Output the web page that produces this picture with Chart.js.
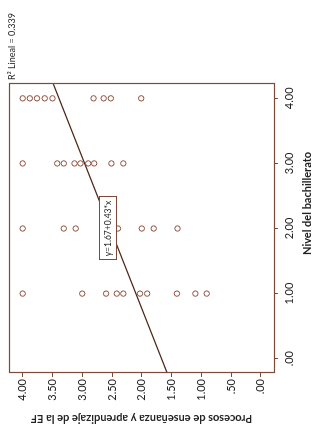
<!DOCTYPE html>
<html><head><meta charset="utf-8">
<script src="https://cdn.jsdelivr.net/npm/chart.js@4.4.1/dist/chart.umd.min.js"></script>
<style>
html,body{margin:0;padding:0;background:#fff;overflow:hidden;width:320px;height:433px;}
#wrap{position:absolute;left:0;top:0;width:433px;height:320px;transform-origin:0 0;transform:translate(0px,433px) rotate(-90deg);}
canvas{display:block;}
</style></head><body>
<div id="wrap"><canvas id="c" width="433" height="320"></canvas></div>
<script>
// ---- data ----
const nivelLevels = [4, 3, 2, 1];
const procesosNivel4 = [4.00, 3.88, 3.76, 3.63, 3.50, 2.81, 2.64, 2.52, 2.01];
const procesosNivel3 = [4.00, 3.42, 3.31, 3.13, 3.03, 2.90, 2.80, 2.51, 2.31];
const procesosNivel2 = [4.00, 3.31, 3.11, 2.40, 2.00, 1.80, 1.40];
const procesosNivel1 = [4.00, 3.00, 2.60, 2.42, 2.31, 2.03, 1.91, 1.41, 1.10, 0.91];
const nivelTicks = [0, 1, 2, 3, 4];
const nivelTickLabels = [".00", "1.00", "2.00", "3.00", "4.00"];
const procesosTicks = [0, 0.5, 1, 1.5, 2, 2.5, 3, 3.5, 4];
const procesosTickLabels = [".00", ".50", "1.00", "1.50", "2.00", "2.50", "3.00", "3.50", "4.00"];
const fitIntercept = 1.67;
const fitSlope = 0.43;
const fitRange = [-0.22, 4.22];
const xTitle = "Nivel del bachillerato";
const yTitle = "Procesos de enseñanza y aprendizaje de la EF";
const r2Label = "R² Lineal = 0.339";
const fitLabel = "y=1.67+0.43*x";
const fitLabelAt = [2.0, 2.57];

// ---- build ----
const groups = [procesosNivel4, procesosNivel3, procesosNivel2, procesosNivel1];
const points = [];
groups.forEach((arr, i) => arr.forEach(v => points.push({x: nivelLevels[i], y: v})));
const fitLine = fitRange.map(x => ({x: x, y: fitIntercept + fitSlope * x}));

const BROWN = '#7d4a3a';
const POINT = '#8b4c39';
const LINE = '#4e2619';
const TEXT = '#222';
const FONT = 'Lato, "Open Sans", sans-serif';

const decor = {
  id: 'decor',
  afterDatasetsDraw(chart) {
    const {ctx, chartArea: a, scales} = chart;
    ctx.save();
    // frame
    ctx.strokeStyle = BROWN;
    ctx.lineWidth = 1.2;
    ctx.strokeRect(Math.round(a.left) + 0.5, Math.round(a.top) + 0.5, Math.round(a.right - a.left), Math.round(a.bottom - a.top));
    // equation box
    ctx.font = '8.5px ' + FONT;
    const tw = ctx.measureText(fitLabel).width;
    const cx = scales.x.getPixelForValue(fitLabelAt[0]);
    const cy = scales.y.getPixelForValue(fitLabelAt[1]);
    const bw = tw + 7, bh = 17;
    ctx.fillStyle = '#fff';
    ctx.fillRect(cx - bw / 2, cy - bh / 2, bw, bh);
    ctx.strokeStyle = BROWN;
    ctx.lineWidth = 1;
    ctx.strokeRect(Math.round(cx - bw / 2) + 0.5, Math.round(cy - bh / 2) + 0.5, Math.round(bw), bh);
    ctx.fillStyle = TEXT;
    ctx.textAlign = 'center';
    ctx.textBaseline = 'middle';
    ctx.fillText(fitLabel, cx, cy + 0.5);
    // R2 label
    ctx.font = '9px ' + FONT;
    ctx.textAlign = 'left';
    ctx.fillText(r2Label, a.right + 4, a.top + 3.5);
    // x title
    ctx.font = 'bold 11px ' + FONT;
    ctx.textAlign = 'center';
    ctx.fillText(xTitle, (a.left + a.right) / 2 + 25, a.bottom + 33);
    ctx.restore();
  }
};

new Chart(document.getElementById('c'), {
  type: 'scatter',
  data: {
    datasets: [
      {
        type: 'line', data: fitLine, borderColor: LINE, borderWidth: 1.3,
        pointRadius: 0, fill: false, tension: 0, order: 2
      },
      {
        data: points, pointRadius: 2.7, pointBorderWidth: 1,
        pointBorderColor: POINT, pointBackgroundColor: 'rgba(255,255,255,0)',
        order: 1
      }
    ]
  },
  options: {
    responsive: false,
    animation: false,
    layout: {padding: {top: 9, right: 84, left: 0, bottom: 0}},
    plugins: {legend: {display: false}, tooltip: {enabled: false}},
    scales: {
      x: {
        type: 'linear', min: -0.22, max: 4.22,
        afterBuildTicks: s => { s.ticks = nivelTicks.map(v => ({value: v})); },
        afterFit: s => { s.height = 46; },
        grid: {drawOnChartArea: false, drawTicks: true, tickLength: 4, color: BROWN, lineWidth: 1},
        border: {display: true, color: BROWN, width: 1},
        ticks: {
          color: TEXT, font: {family: FONT, size: 11}, padding: 5, maxRotation: 0,
          callback: v => nivelTickLabels[nivelTicks.indexOf(v)]
        }
      },
      y: {
        type: 'linear', min: -0.22, max: 4.23,
        afterBuildTicks: s => { s.ticks = procesosTicks.map(v => ({value: v})); },
        afterFit: s => { s.width = 60; },
        grid: {drawOnChartArea: false, drawTicks: true, tickLength: 4, color: BROWN, lineWidth: 1},
        border: {display: true, color: BROWN, width: 1},
        ticks: {
          color: TEXT, font: {family: FONT, size: 11}, padding: 2,
          callback: v => procesosTickLabels[procesosTicks.indexOf(v)]
        },
        title: {
          display: true, text: yTitle, color: TEXT,
          font: {family: FONT, size: 11, weight: 'bold'}, padding: {top: 8, bottom: 0}
        }
      }
    }
  },
  plugins: [decor]
});
</script>
</body></html>
